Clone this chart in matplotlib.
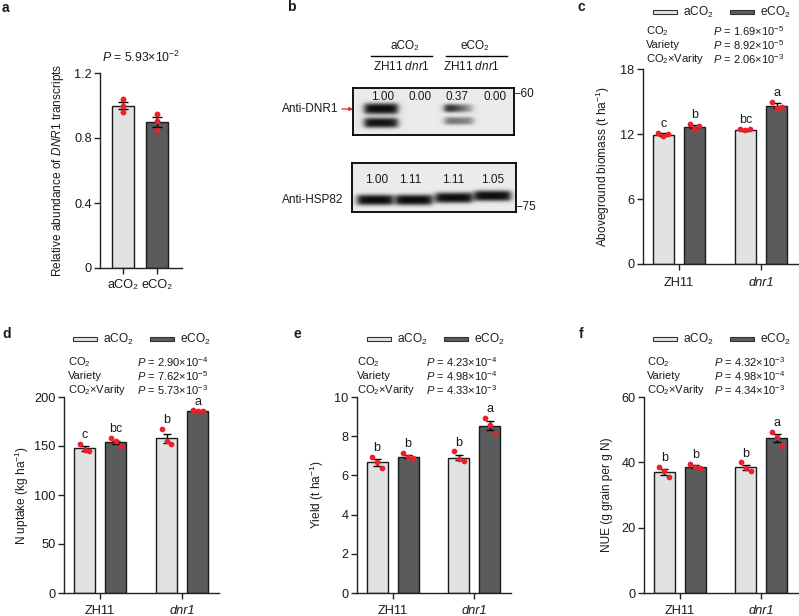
import matplotlib
matplotlib.use('Agg')
import matplotlib.pyplot as plt
import numpy as np
from matplotlib.patches import Rectangle, FancyArrowPatch

plt.rcParams['font.family'] = ['Liberation Sans', 'DejaVu Sans']
plt.rcParams['mathtext.fontset'] = 'custom'
plt.rcParams['mathtext.rm'] = 'Liberation Sans'
plt.rcParams['mathtext.it'] = 'Liberation Sans:italic'
plt.rcParams['mathtext.bf'] = 'Liberation Sans:bold'

# ---------------- data ----------------
# panel a
a_groups = ['aCO₂', 'eCO₂']
a_means = [1.00, 0.90]
a_sem = [0.022, 0.03]
a_points = [[1.037, 1.00, 0.957], [0.949, 0.904, 0.849]]
a_pval = '5.93×10$^{-2}$'

# panel b (western blot)
blot_groups = ['aCO₂', 'eCO₂']
blot_lanes = ['ZH11', 'dnr1']
dnr1_quant = ['1.00', '0.00', '0.37', '0.00']
hsp82_quant = ['1.00', '1.11', '1.11', '1.05']

# grouped panels (order: ZH11-aCO2, ZH11-eCO2, dnr1-aCO2, dnr1-eCO2)
varieties = ['ZH11', 'dnr1']
co2_levels = ['aCO$_2$', 'eCO$_2$']
stat_terms = ['CO$_2$', 'Variety', 'CO$_2$×Varity']

c_means = [11.95, 12.68, 12.35, 14.59]
c_sem = [0.12, 0.15, 0.07, 0.23]
c_pts = [[12.10, 11.85, 12.00], [12.93, 12.44, 12.75], [12.50, 12.38, 12.44], [14.99, 14.37, 14.47]]
c_letters = ['c', 'b', 'bc', 'a']
c_pvals = ['1.69×10$^{-5}$', '8.92×10$^{-5}$', '2.06×10$^{-3}$']

d_means = [147.5, 154.0, 158.0, 186.0]
d_sem = [2.3, 1.6, 4.7, 0.4]
d_pts = [[151.9, 146.0, 144.4], [158.0, 154.6, 150.5], [167.6, 155.6, 152.2], [186.3, 186.0, 185.7]]
d_letters = ['c', 'bc', 'b', 'a']
d_pvals = ['2.90×10$^{-4}$', '7.62×10$^{-5}$', '5.73×10$^{-3}$']

e_means = [6.66, 6.96, 6.91, 8.53]
e_sem = [0.16, 0.07, 0.14, 0.23]
e_pts = [[6.96, 6.67, 6.40], [7.13, 6.96, 6.89], [7.22, 6.83, 6.74], [8.92, 8.58, 8.14]]
e_letters = ['b', 'b', 'b', 'a']
e_pvals = ['4.23×10$^{-4}$', '4.98×10$^{-4}$', '4.33×10$^{-3}$']

f_means = [37.05, 38.7, 38.5, 47.5]
f_sem = [0.9, 0.4, 0.8, 1.2]
f_pts = [[38.7, 37.2, 35.6], [39.5, 38.5, 38.2], [40.0, 38.2, 37.5], [49.4, 47.7, 45.1]]
f_letters = ['b', 'b', 'b', 'a']
f_pvals = ['4.32×10$^{-3}$', '4.98×10$^{-4}$', '4.34×10$^{-3}$']

# ---------------- style ----------------
LIGHT = '#e1e2e2'
DARK = '#5a5c5c'
RED = '#e8212b'
EDGE = '#1a1a1a'
TXT = '#1a1a1a'
FS = 8          # stats / blot text
FS_TICK = 9.2   # tick labels
FS_LAB = 8.6    # axis labels

W, H = 799, 616
fig = plt.figure(figsize=(W / 100, H / 100), dpi=100)


def rect(x0, y0, x1, y1):
    return [x0 / W, 1 - y1 / H, (x1 - x0) / W, (y1 - y0) / H]


def ftext(x, y, s, **kw):
    kw.setdefault('fontsize', FS)
    kw.setdefault('color', TXT)
    kw.setdefault('va', 'center')
    fig.text(x / W, 1 - y / H, s, **kw)


def style_axes(ax):
    for s in ['top', 'right']:
        ax.spines[s].set_visible(False)
    for s in ['left', 'bottom']:
        ax.spines[s].set_linewidth(1.0)
        ax.spines[s].set_color('#222222')
    ax.tick_params(axis='both', direction='out', length=4, width=1.0, color='#222222',
                   labelsize=FS_TICK, labelcolor=TXT, pad=2)


def legend_at(x, y):
    # x, y in figure pixels: left of first patch, vertical centre
    for i, (lab, col) in enumerate(zip(co2_levels, [LIGHT, DARK])):
        x0 = x + i * 77
        fig.add_artist(Rectangle((x0 / W, 1 - (y + 2.4) / H), 24 / W, 4.8 / H,
                                 transform=fig.transFigure, facecolor=col,
                                 edgecolor='#333333', linewidth=0.8))
        ftext(x0 + 30, y, lab, ha='left', fontsize=FS + 0.6)


def stats_at(x, xp, ys, pvals):
    for term, pv, y in zip(stat_terms, pvals, ys):
        ftext(x, y, term, ha='left')
        ftext(xp, y, '$\\it{P}$ = ' + pv, ha='left')


# ---------------- panel a ----------------
axa = fig.add_axes(rect(100, 73, 182, 268))
style_axes(axa)
xa = np.arange(len(a_groups))
axa.bar(xa, a_means, width=0.65, color=[LIGHT, DARK], edgecolor=EDGE, linewidth=1.0, zorder=2)
axa.errorbar(xa, a_means, yerr=a_sem, fmt='none', ecolor='black', elinewidth=1.0,
             capsize=3.6, capthick=1.0, zorder=3)
for xi, pts in zip(xa, a_points):
    axa.scatter(np.full(len(pts), xi), pts, s=18, color=RED, zorder=4, linewidths=0)
axa.set_xlim(-0.68, 1.74)
axa.set_ylim(0, 1.2)
axa.set_yticks([0, 0.4, 0.8, 1.2])
axa.set_yticklabels(['0', '0.4', '0.8', '1.2'])
axa.set_xticks(xa)
axa.set_xticklabels(a_groups)
axa.tick_params(axis='x', pad=4)
axa.set_ylabel('Relative abundance of $\\it{DNR1}$ transcripts', fontsize=FS_LAB, color=TXT)
axa.yaxis.set_label_coords(-0.42, 0.5)
axa.set_title('$\\it{P}$ = ' + a_pval, fontsize=FS + 0.8, color=TXT, pad=8)
ftext(2, 8, 'a', fontsize=10, fontweight='bold', ha='left')

# ---------------- panel b (blot) ----------------
def blot_image(ax, xl, bands, bg=0.92):
    xs = np.linspace(xl[0], xl[1], 400)
    ys = np.linspace(0, 1, 160)
    X, Y = np.meshgrid(xs, ys)
    dens = np.zeros_like(X)
    for (xc, yc, hw, hh, s0, s1) in bands:
        t = np.clip((X - (xc - hw)) / (2 * hw), 0, 1)
        strength = s0 + (s1 - s0) * t
        fx = 1 / (1 + np.exp((np.abs(X - xc) - hw) / 0.05))
        fy = np.exp(-(np.abs(Y - yc) / hh) ** 3)
        dens += strength * fx * fy
    dens = np.clip(dens, 0, 1)
    img = bg - (bg - 0.05) * dens
    ax.imshow(img, extent=[xl[0], xl[1], 0, 1], origin='lower', cmap='gray', vmin=0, vmax=1,
              aspect='auto', interpolation='bilinear', zorder=1)
    ax.set_xlim(*xl)
    ax.set_ylim(0, 1)
    ax.set_xticks([])
    ax.set_yticks([])
    for s in ax.spines.values():
        s.set_linewidth(1.3)
        s.set_color('black')


axb1 = fig.add_axes(rect(353, 88, 514, 135))
xl1 = (-0.747, 3.547)
blot_image(axb1, xl1, [
    (0.0, 0.56, 0.44, 0.12, 1.0, 1.0),
    (0.0, 0.26, 0.44, 0.11, 1.0, 0.95),
    (2.08, 0.57, 0.37, 0.09, 1.0, 0.30),
    (2.08, 0.30, 0.37, 0.085, 0.55, 0.45),
])
for i, q in enumerate(dnr1_quant):
    axb1.text(i + 0.03, 0.81, q, ha='center', va='center', fontsize=FS + 0.5, color=TXT, zorder=3)

axb2 = fig.add_axes(rect(352, 163, 516, 212))
xl2 = (-0.585, 3.59)
blot_image(axb2, xl2, [
    (0.0, 0.245, 0.45, 0.11, 1.0, 1.0),
    (0.99, 0.245, 0.46, 0.11, 1.0, 1.0),
    (2.01, 0.29, 0.46, 0.11, 1.0, 1.0),
    (3.0, 0.33, 0.46, 0.11, 1.0, 1.0),
])
qx = [0.03, 0.89, 1.98, 3.0]
for xq, q in zip(qx, hsp82_quant):
    axb2.text(xq, 0.65, q, ha='center', va='center', fontsize=FS + 0.5, color=TXT, zorder=3)

# headers
for cx, lx0, lx1, g in [(405, 371, 432, blot_groups[0]), (475, 446, 507, blot_groups[1])]:
    ftext(cx, 46, g, ha='center', fontsize=FS + 0.5)
    fig.add_artist(plt.Line2D([lx0 / W, lx1 / W], [1 - 56 / H, 1 - 56 / H],
                              transform=fig.transFigure, color='black', linewidth=1.0))
    ftext(cx - 3, 67, blot_lanes[0] + ' $\\it{' + blot_lanes[1] + '}$', ha='center', fontsize=FS + 0.5)

ftext(282, 109, 'Anti-DNR1', ha='left', fontsize=FS + 0.5)
ftext(282, 200, 'Anti-HSP82', ha='left', fontsize=FS + 0.5)
fig.add_artist(FancyArrowPatch((342 / W, 1 - 109 / H), (353 / W, 1 - 109 / H),
                               transform=fig.transFigure, arrowstyle='-|>', mutation_scale=5,
                               color=RED, linewidth=0.9, shrinkA=0, shrinkB=0))
ftext(514, 94, '–60', ha='left', fontsize=FS + 0.5)
ftext(516, 207, '–75', ha='left', fontsize=FS + 0.5)
ftext(287, 7, 'b', fontsize=10, fontweight='bold', ha='left')


# ---------------- grouped panels ----------------
def grouped(box, means, sem, pts, letters, ymax, yticks, ylabel, label_x):
    ax = fig.add_axes(rect(*box))
    style_axes(ax)
    pos = np.array([-0.19, 0.19, 0.81, 1.19])
    cols = [LIGHT, DARK, LIGHT, DARK]
    ax.bar(pos, means, width=0.255, color=cols, edgecolor=EDGE, linewidth=1.0, zorder=2)
    ax.errorbar(pos, means, yerr=sem, fmt='none', ecolor='black', elinewidth=1.0,
                capsize=3.0, capthick=1.0, zorder=3)
    jit = np.array([-0.06, 0.0, 0.06])
    for p, m, s, v, L in zip(pos, means, sem, pts, letters):
        ax.scatter(p + jit, v, s=17, color=RED, zorder=4, linewidths=0)
        top = max(max(v), m + s)
        ax.annotate(L, (p, top), xytext=(0, 2), textcoords='offset points',
                    ha='center', va='bottom', fontsize=FS + 1, color=TXT)
    ax.set_xlim(-0.44, 1.45)
    ax.set_ylim(0, ymax)
    ax.set_yticks(yticks)
    ax.set_xticks([0, 1])
    ax.set_xticklabels(varieties)
    ax.get_xticklabels()[1].set_style('italic')
    ax.tick_params(axis='x', pad=5)
    ax.set_ylabel(ylabel, fontsize=FS_LAB, color=TXT)
    ax.yaxis.set_label_coords(label_x, 0.5)
    return ax


# panel c
grouped((642.7, 69, 798, 264), c_means, c_sem, c_pts, c_letters, 18, [0, 6, 12, 18],
        'Aboveground biomass (t ha$^{-1}$)', -0.2)
legend_at(653, 12)
stats_at(646, 713, [31, 45, 59], c_pvals)
ftext(578, 7, 'c', fontsize=10, fontweight='bold', ha='left')

# panel d
grouped((64, 397, 219, 593), d_means, d_sem, d_pts, d_letters, 200, [0, 50, 100, 150, 200],
        'N uptake (kg ha$^{-1}$)', -0.21)
legend_at(73, 339)
stats_at(68, 137, [362, 376, 390], d_pvals)
ftext(2, 334, 'd', fontsize=10, fontweight='bold', ha='left')

# panel e
grouped((356.7, 397, 511, 593), e_means, e_sem, e_pts, e_letters, 10, [0, 2, 4, 6, 8, 10],
        'Yield (t ha$^{-1}$)', -0.2)
legend_at(367, 339)
stats_at(357, 426, [362, 376, 390], e_pvals)
ftext(294, 334, 'e', fontsize=10, fontweight='bold', ha='left')

# panel f
grouped((644, 397, 798, 593), f_means, f_sem, f_pts, f_letters, 60, [0, 20, 40, 60],
        'NUE (g grain per g N)', -0.2)
legend_at(653, 339)
stats_at(647, 714, [362, 376, 390], f_pvals)
ftext(579, 334, 'f', fontsize=10, fontweight='bold', ha='left')

fig.savefig('out.png', dpi=100)
